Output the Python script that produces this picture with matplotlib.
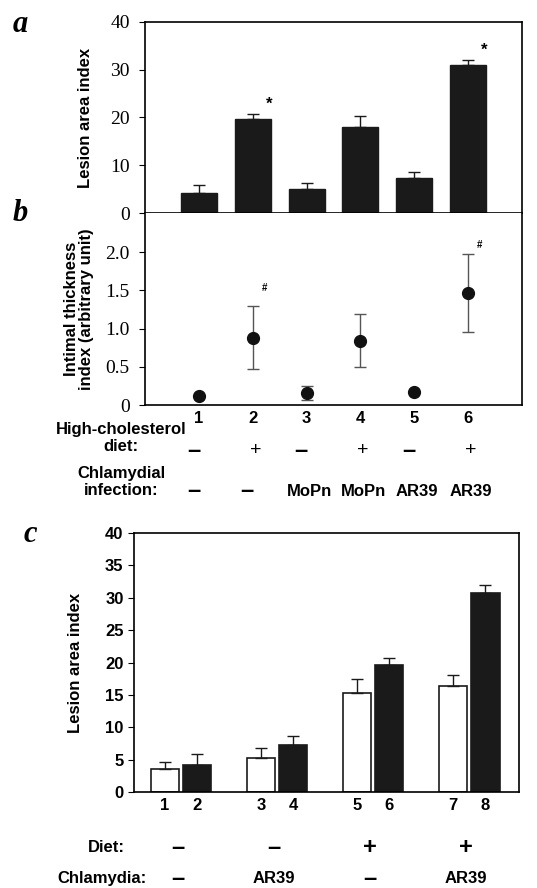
import numpy as np
import matplotlib
matplotlib.use("Agg")
import matplotlib.pyplot as plt
from matplotlib.transforms import blended_transform_factory as blend

plt.rcParams["font.family"] = ["Liberation Sans", "DejaVu Sans"]

# --- data ---
groups_ab = [1, 2, 3, 4, 5, 6]
lesion_a = [4.1, 19.7, 5.1, 18.1, 7.4, 30.9]
lesion_a_top = [5.9, 20.7, 6.2, 20.3, 8.6, 32.0]
stars_a = [2, 6]

intimal_b = [0.12, 0.88, 0.16, 0.84, 0.17, 1.47]
intimal_b_lo = [0.12, 0.47, 0.06, 0.50, 0.17, 0.96]
intimal_b_hi = [0.12, 1.29, 0.25, 1.19, 0.17, 1.97]
hash_b = [2, 6]

diet_b = ["–", "+", "–", "+", "–", "+"]
infection_b = ["–", "–", "MoPn", "MoPn", "AR39", "AR39"]

bars_c = [1, 2, 3, 4, 5, 6, 7, 8]
lesion_c_white = [3.6, 5.3, 15.3, 16.4]
lesion_c_white_top = [4.6, 6.8, 17.4, 18.1]
lesion_c_black = [4.1, 7.2, 19.6, 30.8]
lesion_c_black_top = [5.8, 8.6, 20.7, 32.0]
diet_c = ["–", "–", "+", "+"]
chlamydia_c = ["–", "AR39", "–", "AR39"]

W, H = 537, 888
fig = plt.figure(figsize=(W / 100, H / 100), dpi=100)

def fy(py): return 1 - py / H
def fx(px): return px / W

serif = ["Liberation Serif", "DejaVu Serif"]

# --- panel a ---
axa = fig.add_axes([fx(145), fy(213), fx(522) - fx(145), fy(22) - fy(213)])
err_a = np.array(lesion_a_top) - np.array(lesion_a)
axa.bar(groups_ab, lesion_a, width=0.67, color="#1a1a1a", edgecolor="#1a1a1a")
axa.errorbar(groups_ab, lesion_a, yerr=[np.zeros(6), err_a], fmt="none",
             ecolor="#1a1a1a", elinewidth=1, capsize=4)
for g in stars_a:
    axa.text(g + 0.3, lesion_a_top[g - 1] + 0.6, "*", ha="center", va="bottom",
             fontsize=12, fontweight="bold")
axa.set_xlim(0, 7); axa.set_ylim(0, 40)
axa.set_yticks([0, 10, 20, 30, 40])
axa.set_yticklabels(["0", "10", "20", "30", "40"], family=serif, fontsize=14)
axa.set_xticks(groups_ab)
axa.set_xticklabels([str(g) for g in groups_ab], fontsize=12, fontweight="bold")
axa.tick_params(axis="x", length=0, pad=4)
axa.tick_params(axis="y", length=4, direction="out", pad=7)
axa.set_ylabel("Lesion area index", fontsize=12, fontweight="bold", labelpad=12)
for s in axa.spines.values(): s.set_linewidth(1.2)

# --- panel b ---
axb = fig.add_axes([fx(145), fy(405), fx(522) - fx(145), fy(213) - fy(405)])
vals = np.array(intimal_b)
axb.errorbar(groups_ab, vals, yerr=[vals - np.array(intimal_b_lo), np.array(intimal_b_hi) - vals],
             fmt="o", color="#111111", ecolor="#555555", markersize=8.5, elinewidth=1, capsize=4)
for g in hash_b:
    axb.text(g + 0.22, intimal_b_hi[g - 1] + 0.18 if g == 2 else intimal_b_hi[g - 1] + 0.06, "#",
             ha="center", va="bottom", fontsize=7, fontweight="bold")
axb.set_xlim(0, 7); axb.set_ylim(0, 2.51)
axb.set_yticks([0, 0.5, 1.0, 1.5, 2.0])
axb.set_yticklabels(["0", "0.5", "1.0", "1.5", "2.0"], family=serif, fontsize=14)
axb.set_xticks(groups_ab)
axb.set_xticklabels([str(g) for g in groups_ab], fontsize=12, fontweight="bold")
axb.tick_params(axis="x", length=0, pad=4)
axb.tick_params(axis="y", length=4, direction="out", pad=7)
axb.spines["top"].set_visible(False)
for s in axb.spines.values(): s.set_linewidth(1.2)
axb.set_ylabel("Intimal thickness\nindex (arbitrary unit)", fontsize=12,
               fontweight="bold", labelpad=8, linespacing=1.0)

tb = blend(axb.transData, fig.transFigure)
fig.text(fx(121), fy(438), "High-cholesterol\ndiet:", ha="center", va="center",
         fontsize=12, fontweight="bold", linespacing=1.2)
fig.text(fx(121), fy(482), "Chlamydial\ninfection:", ha="center", va="center",
         fontsize=12, fontweight="bold", linespacing=1.2)
for g, d, c in zip(groups_ab, diet_b, infection_b):
    if d == "–":
        axb.text(g - 0.1, fy(450), d, transform=tb, ha="center", va="center", fontsize=17,
                 fontweight="bold")
    else:
        axb.text(g + 0.05, fy(450), d, transform=tb, ha="center", va="center", fontsize=14)
    if c == "–":
        axb.text(g - 0.1, fy(491), c, transform=tb, ha="center", va="center",
                 fontsize=17, fontweight="bold")
    else:
        axb.text(g + 0.05, fy(491), c, transform=tb, ha="center", va="center",
                 fontsize=12, fontweight="bold")

# --- panel c ---
axc = fig.add_axes([fx(134), fy(792), fx(519) - fx(134), fy(533) - fy(792)])
gx = np.arange(4)
off, bw = 0.167, 0.30
axc.bar(gx - off, lesion_c_white, width=bw, color="white", edgecolor="#1a1a1a", linewidth=1.2)
axc.bar(gx + off, lesion_c_black, width=bw, color="#1a1a1a", edgecolor="#1a1a1a", linewidth=1.2)
axc.errorbar(gx - off, lesion_c_white,
             yerr=[np.zeros(4), np.array(lesion_c_white_top) - np.array(lesion_c_white)],
             fmt="none", ecolor="#1a1a1a", elinewidth=1, capsize=4)
axc.errorbar(gx + off, lesion_c_black,
             yerr=[np.zeros(4), np.array(lesion_c_black_top) - np.array(lesion_c_black)],
             fmt="none", ecolor="#1a1a1a", elinewidth=1, capsize=4)
axc.set_xlim(-0.49, 3.52); axc.set_ylim(0, 40)
axc.set_yticks(np.arange(0, 41, 5))
axc.set_yticklabels([str(v) for v in range(0, 41, 5)], fontsize=12, fontweight="bold")
axc.set_xticks(np.ravel(np.column_stack([gx - off, gx + off])))
axc.set_xticklabels([str(b) for b in bars_c], fontsize=12, fontweight="bold")
axc.tick_params(axis="x", length=0, pad=4)
axc.tick_params(axis="y", length=4, direction="out")
axc.set_ylabel("Lesion area index", fontsize=12, fontweight="bold", labelpad=16)
for s in axc.spines.values(): s.set_linewidth(1.2)

tc = blend(axc.transData, fig.transFigure)
fig.text(fx(125), fy(847), "Diet:", ha="right", va="center", fontsize=12, fontweight="bold")
fig.text(fx(147), fy(878), "Chlamydia:", ha="right", va="center", fontsize=12, fontweight="bold")
for g, d, c in zip(gx, diet_c, chlamydia_c):
    axc.text(g - 0.03, fy(847), d, transform=tc, ha="center", va="center", fontsize=17,
             fontweight="bold")
    axc.text(g - 0.03, fy(878), c, transform=tc, ha="center", va="center",
             fontsize=17 if c == "–" else 12, fontweight="bold")

# panel letters
for lab, px, py in [("a", 20, 24), ("b", 20, 213), ("c", 30, 535)]:
    fig.text(fx(px), fy(py), lab, ha="center", va="center", family=serif,
             fontsize=22, fontweight="bold", fontstyle="italic")

fig.savefig("out.png", dpi=100)
